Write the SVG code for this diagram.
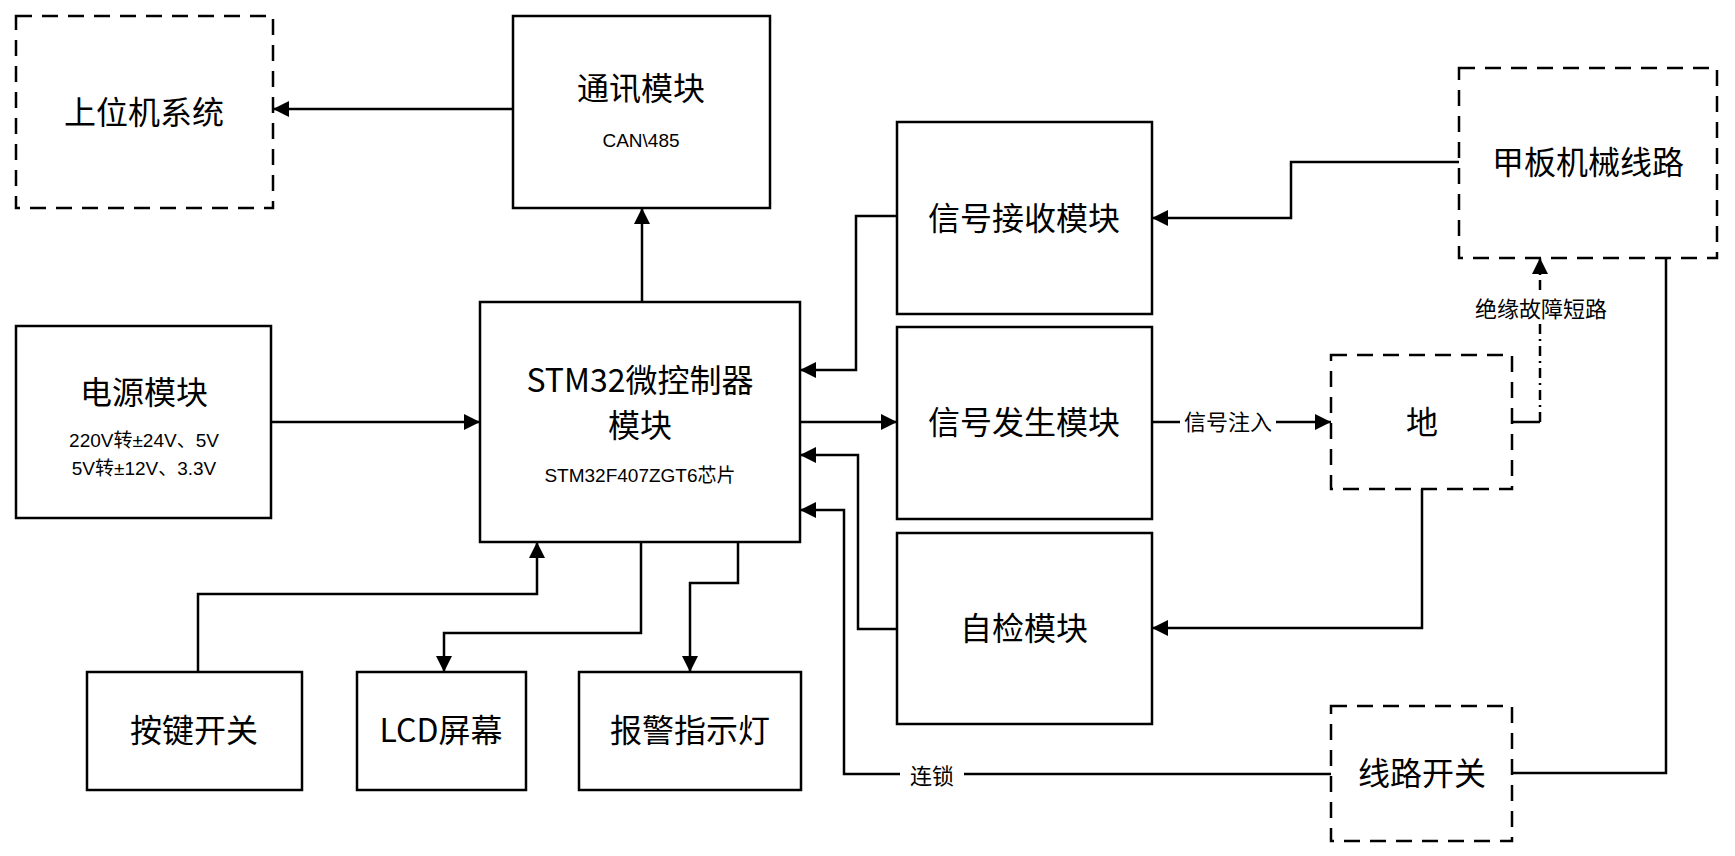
<svg xmlns="http://www.w3.org/2000/svg" width="1735" height="856" viewBox="0 0 1735 856">
<defs>
<marker id="b" viewBox="0 0 10 10" refX="10" refY="5" markerWidth="16" markerHeight="16" orient="auto" markerUnits="userSpaceOnUse"><path d="M0,0L10,5L0,10z" fill="#000"/></marker>
</defs>
<style>
.box{fill:#fff;stroke:#000;stroke-width:2.5}
.d{stroke-dasharray:16,10}
.t{font-family:"Noto Sans CJK SC","Liberation Sans",sans-serif;font-size:32px;text-anchor:middle;fill:#000}
.s{font-family:"Liberation Sans","Noto Sans CJK SC",sans-serif;font-size:19px;text-anchor:middle;fill:#000}
.c path{fill:none;stroke:#000;stroke-width:2.5}
.l{font-family:"Noto Sans CJK SC",sans-serif;font-size:22px;text-anchor:middle;fill:#000}
</style>
<rect width="1735" height="856" fill="#fff"/>
<g class="c">
<path d="M513,109H273" marker-end="url(#b)"/>
<path d="M642,302V208" marker-end="url(#b)"/>
<path d="M271,422H480" marker-end="url(#b)"/>
<path d="M800,422H897" marker-end="url(#b)"/>
<path d="M897,216H856V370H800" marker-end="url(#b)"/>
<path d="M897,629H858V455H800" marker-end="url(#b)"/>
<path d="M1331,774H844V510H800" marker-end="url(#b)"/>
<path d="M1459,162H1291V218H1152" marker-end="url(#b)"/>
<path d="M1152,422H1331" marker-end="url(#b)"/>
<path d="M1512,422H1540" />
<path d="M1540,422V258" stroke-dasharray="10,5,2,5" marker-end="url(#b)"/>
<path d="M1422,489V628H1152" marker-end="url(#b)"/>
<path d="M1666,258V773H1512"/>
<path d="M198,672V594H537V542" marker-end="url(#b)"/>
<path d="M641,542V633H444V672" marker-end="url(#b)"/>
<path d="M738,542V583H690V672" marker-end="url(#b)"/>
</g>
<rect x="900" y="760" width="64" height="28" fill="#fff"/>
<text class="l" x="932" y="784">连锁</text>
<rect x="1180" y="408" width="96" height="28" fill="#fff"/>
<text class="l" x="1228" y="430">信号注入</text>
<rect x="1456" y="293" width="172" height="30" fill="#fff"/>
<text class="l" x="1541" y="317">绝缘故障短路</text>
<g id="n1"><rect class="box d" x="16" y="16" width="257" height="192"/><text class="t" x="144" y="124">上位机系统</text></g>
<g id="n2"><rect class="box" x="513" y="16" width="257" height="192"/><text class="t" x="641" y="100">通讯模块</text><text class="s" x="641" y="147">CAN\485</text></g>
<g id="n3"><rect class="box" x="897" y="122" width="255" height="192"/><text class="t" x="1024" y="230">信号接收模块</text></g>
<g id="n4"><rect class="box d" x="1459" y="68" width="258" height="190"/><text class="t" x="1588" y="174">甲板机械线路</text></g>
<g id="n5"><rect class="box" x="16" y="326" width="255" height="192"/><text class="t" x="144" y="404">电源模块</text><text class="s" x="144" y="447">220V转±24V、5V</text><text class="s" x="144" y="475">5V转±12V、3.3V</text></g>
<g id="n6"><rect class="box" x="480" y="302" width="320" height="240"/><text class="t" x="640" y="392">STM32微控制器</text><text class="t" x="640" y="437">模块</text><text class="s" x="640" y="482">STM32F407ZGT6芯片</text></g>
<g id="n7"><rect class="box" x="897" y="327" width="255" height="192"/><text class="t" x="1024" y="434">信号发生模块</text></g>
<g id="n8"><rect class="box d" x="1331" y="355" width="181" height="134"/><text class="t" x="1422" y="434">地</text></g>
<g id="n9"><rect class="box" x="897" y="533" width="255" height="191"/><text class="t" x="1024" y="640">自检模块</text></g>
<g id="n10"><rect class="box" x="87" y="672" width="215" height="118"/><text class="t" x="194" y="742">按键开关</text></g>
<g id="n11"><rect class="box" x="357" y="672" width="169" height="118"/><text class="t" x="441" y="742">LCD屏幕</text></g>
<g id="n12"><rect class="box" x="579" y="672" width="222" height="118"/><text class="t" x="690" y="742">报警指示灯</text></g>
<g id="n13"><rect class="box d" x="1331" y="706" width="181" height="135"/><text class="t" x="1422" y="785">线路开关</text></g>
</svg>
